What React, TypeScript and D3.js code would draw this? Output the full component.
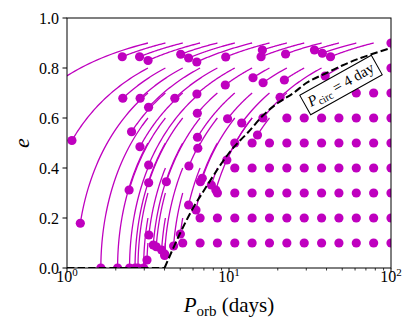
import React from 'react';
import * as d3 from 'd3';

// Initial orbital periods (days) of the grid of systems
const GRID_P = [3.16, 4.05, 5.18, 6.63, 8.48, 10.86, 13.89, 17.78, 22.76, 29.13, 37.28, 47.71, 61.05, 78.14, 100];

// Evolved systems: grid index, initial e, current e
const trackK = [
  0, 1, 2, 3, 4, 5, 6, 7, 8, 9, 10, 11, 12, 13,
  0, 1, 2, 3, 4, 5, 6, 7, 8, 9, 10, 11,
  0, 1, 2, 3, 4, 5, 6, 7, 8,
  0, 1, 2, 3, 4, 5, 6, 6, 7,
  0, 1, 2, 3, 4,
  0, 1, 2, 3, 4,
  0, 1, 2, 3,
  0, 1, 2,
  0, 1,
];
const trackE0 = [
  0.9, 0.9, 0.9, 0.9, 0.9, 0.9, 0.9, 0.9, 0.9, 0.9, 0.9, 0.9, 0.9, 0.9,
  0.8, 0.8, 0.8, 0.8, 0.8, 0.8, 0.8, 0.8, 0.8, 0.8, 0.8, 0.8,
  0.7, 0.7, 0.7, 0.7, 0.7, 0.7, 0.7, 0.7, 0.7,
  0.6, 0.6, 0.6, 0.6, 0.6, 0.6, 0.6, 0.6, 0.6,
  0.5, 0.5, 0.5, 0.5, 0.5,
  0.4, 0.4, 0.4, 0.4, 0.4,
  0.3, 0.3, 0.3, 0.3,
  0.2, 0.2, 0.2,
  0.1, 0.1,
];
const trackE1 = [
  0.6, 0.845, 0.845, 0.83, 0.855, 0.84, 0.824, 0.844, 0.872, 0.845, 0.856, 0.872, 0.859, 0.845,
  0.51, 0.679, 0.679, 0.643, 0.679, 0.696, 0.732, 0.761, 0.741, 0.752, 0.683, 0.768,
  0.179, 0.545, 0.485, 0.412, 0.619, 0.523, 0.597, 0.58, 0.6,
  0.0, 0.312, 0.341, 0.345, 0.479, 0.359, 0.432, 0.312, 0.532,
  0.0, 0.0, 0.092, 0.408, 0.345,
  0.0, 0.132, 0.056, 0.252, 0.332,
  0.0, 0.085, 0.088, 0.232,
  0.0, 0.072, 0.136,
  0.032, 0.05,
];

// Unevolved systems: each row's eccentricity and first grid index still in place
const staticRowE = [0.9, 0.8, 0.7, 0.6, 0.5, 0.4, 0.3, 0.2, 0.1];
const staticRowFirstK = [14, 14, 12, 8, 5, 5, 4, 3, 2];

// P_circ = 4 day envelope
const circBaseP = [1, 4];
const circBaseE = [0, 0];
const circP = [4, 5, 6, 7, 8.4, 10, 11.7, 13, 16.2, 20, 25, 30, 40, 50, 65, 80, 100];
const circE = [0, 0.14, 0.24, 0.31, 0.39, 0.46, 0.51, 0.54, 0.61, 0.66, 0.70, 0.74, 0.78, 0.81, 0.84, 0.86, 0.88];

const yTicks = [0, 0.2, 0.4, 0.6, 0.8, 1.0];
const xMajor = [1, 10, 100];
const xMajorExp = ['0', '1', '2'];

const MAG = '#bf00bf';
const FONT = '"Liberation Serif", "DejaVu Serif", serif';

export default function App() {
  const L = 67, R = 391, T = 18, B = 268;
  const x = d3.scaleLog().domain([1, 100]).range([L, R]);
  const y = d3.scaleLinear().domain([0, 1]).range([B, T]);
  const line = d3.line<[number, number]>().x(d => x(d[0])).y(d => y(d[1]));
  const curve = d3.line<[number, number]>().x(d => x(d[0])).y(d => y(d[1])).curve(d3.curveMonotoneX);

  const tracks = trackK.map((k, i) => {
    const P0 = GRID_P[k], e0 = trackE0[i], e1 = trackE1[i];
    const pts: [number, number][] = [];
    const n = 40;
    for (let j = 0; j <= n; j++) {
      const e = e0 + (e1 - e0) * j / n;
      const P = P0 * Math.pow((1 - e0 * e0) / (1 - e * e), 1.5);
      pts.push([P, e]);
    }
    return { pts, end: pts[n] };
  });

  const staticDots: [number, number][] = [];
  staticRowE.forEach((e, r) => {
    for (let k = staticRowFirstK[r]; k < GRID_P.length; k++) staticDots.push([GRID_P[k], e]);
  });

  const minor: number[] = [];
  [1, 10].forEach(dec => { for (let m = 2; m <= 9; m++) minor.push(dec * m); });

  const basePath = line(circBaseP.map((p, i) => [p, circBaseE[i]] as [number, number])) || '';
  const circPath = curve(circP.map((p, i) => [p, circE[i]] as [number, number])) || '';

  return (
    <svg width={415} height={332} style={{ position: 'absolute', left: 0, top: 0, background: '#fff' }} fontFamily={FONT}>
      <defs>
        <clipPath id="plotclip">
          <rect x={L} y={T} width={R - L} height={B - T} />
        </clipPath>
      </defs>
      <g clipPath="url(#plotclip)">
        {tracks.map((t, i) => (
          <path key={'t' + i} d={line(t.pts) || ''} fill="none" stroke={MAG} strokeWidth={1.3} />
        ))}
        {tracks.map((t, i) => (
          <circle key={'d' + i} cx={x(t.end[0])} cy={y(t.end[1])} r={4.6} fill={MAG} />
        ))}
        {staticDots.map((d, i) => (
          <circle key={'s' + i} cx={x(d[0])} cy={y(d[1])} r={4.6} fill={MAG} />
        ))}
        <path d={basePath} fill="none" stroke="#000" strokeWidth={2} strokeDasharray="7.4,3.2" />
        <path d={circPath} fill="none" stroke="#000" strokeWidth={2} strokeDasharray="7.4,3.2" />
      </g>
      {/* spines */}
      <rect x={L} y={T} width={R - L} height={B - T} fill="none" stroke="#000" strokeWidth={1} />
      {/* y ticks */}
      {yTicks.map(v => (
        <g key={'y' + v}>
          <line x1={L - 4.5} x2={L} y1={y(v)} y2={y(v)} stroke="#000" strokeWidth={1} />
          <text x={L - 8} y={y(v)} dy="0.35em" textAnchor="end" fontSize={16}>{v.toFixed(1)}</text>
        </g>
      ))}
      {/* x ticks */}
      {xMajor.map((v, i) => (
        <g key={'x' + v}>
          <line x1={x(v)} x2={x(v)} y1={B} y2={B + 4.5} stroke="#000" strokeWidth={1} />
          <text x={x(v)} y={282} textAnchor="middle" fontSize={16}>
            10<tspan fontSize={11} dy={-6}>{xMajorExp[i]}</tspan>
          </text>
        </g>
      ))}
      {minor.map(v => (
        <line key={'m' + v} x1={x(v)} x2={x(v)} y1={B} y2={B + 2.5} stroke="#000" strokeWidth={0.8} />
      ))}
      {/* axis labels */}
      <text x={229} y={312} textAnchor="middle" fontSize={21}>
        <tspan fontStyle="italic">P</tspan>
        <tspan fontSize={15} dy={4}>orb</tspan>
        <tspan dy={-4}> (days)</tspan>
      </text>
      <text transform="translate(29,143) rotate(-90)" textAnchor="middle" fontSize={22} fontStyle="italic">e</text>
      {/* annotation box */}
      <g transform="translate(341,85) rotate(-29.2)">
        <rect x={-41} y={-11.2} width={82} height={22.4} fill="#fff" stroke="#000" strokeWidth={1} />
        <text x={0} y={4.5} textAnchor="middle" fontSize={15}>
          <tspan fontStyle="italic">P</tspan>
          <tspan fontSize={10.5} dy={3}>circ</tspan>
          <tspan dy={-3}> = 4 day</tspan>
        </text>
      </g>
    </svg>
  );
}
